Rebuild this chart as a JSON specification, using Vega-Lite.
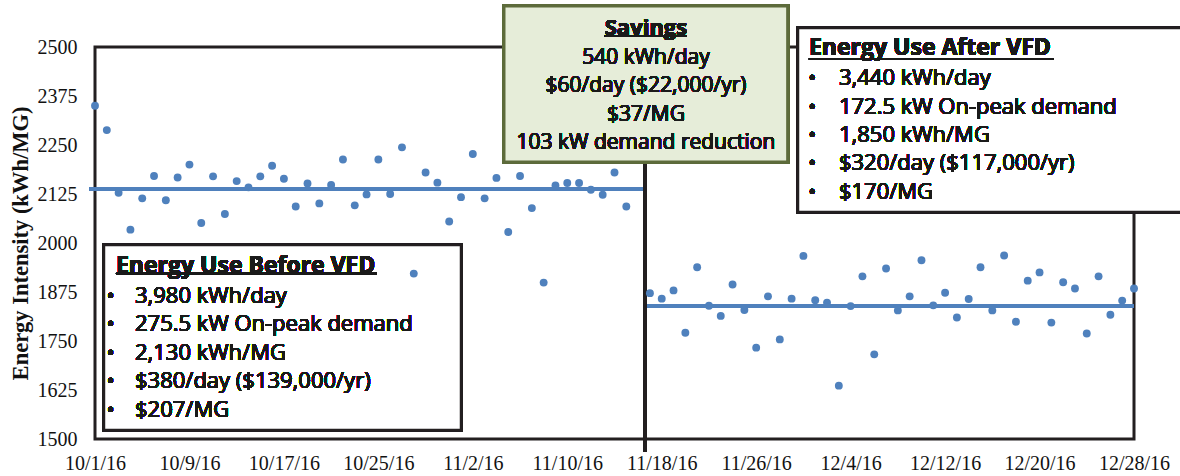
{
  "$schema": "https://vega.github.io/schema/vega-lite/v6.json",
  "width": 1039,
  "height": 392,
  "autosize": {"type": "none"},
  "padding": {"left": 95, "top": 47, "right": 46, "bottom": 37},
  "background": "white",
  "config": {"view": {"stroke": "#231f20", "strokeWidth": 3}, "font": "Liberation Serif"},
  "data": {"values": [
    {"date": "2016-10-01T00:00", "value": 2350},
    {"date": "2016-10-02T00:00", "value": 2288},
    {"date": "2016-10-03T00:00", "value": 2128},
    {"date": "2016-10-04T00:00", "value": 2034},
    {"date": "2016-10-05T00:00", "value": 2114},
    {"date": "2016-10-06T00:00", "value": 2171},
    {"date": "2016-10-07T00:00", "value": 2109},
    {"date": "2016-10-08T00:00", "value": 2167},
    {"date": "2016-10-09T00:00", "value": 2200},
    {"date": "2016-10-10T00:00", "value": 2051},
    {"date": "2016-10-11T00:00", "value": 2170},
    {"date": "2016-10-12T00:00", "value": 2074},
    {"date": "2016-10-13T00:00", "value": 2158},
    {"date": "2016-10-14T00:00", "value": 2142},
    {"date": "2016-10-15T00:00", "value": 2170},
    {"date": "2016-10-16T00:00", "value": 2197},
    {"date": "2016-10-17T00:00", "value": 2164},
    {"date": "2016-10-18T00:00", "value": 2093},
    {"date": "2016-10-19T00:00", "value": 2152},
    {"date": "2016-10-20T00:00", "value": 2101},
    {"date": "2016-10-21T00:00", "value": 2148},
    {"date": "2016-10-22T00:00", "value": 2213},
    {"date": "2016-10-23T00:00", "value": 2096},
    {"date": "2016-10-24T00:00", "value": 2124},
    {"date": "2016-10-25T00:00", "value": 2213},
    {"date": "2016-10-26T00:00", "value": 2125},
    {"date": "2016-10-27T00:00", "value": 2244},
    {"date": "2016-10-28T00:00", "value": 1922},
    {"date": "2016-10-29T00:00", "value": 2180},
    {"date": "2016-10-30T00:00", "value": 2154},
    {"date": "2016-10-31T00:00", "value": 2055},
    {"date": "2016-11-01T00:00", "value": 2117},
    {"date": "2016-11-02T00:00", "value": 2227},
    {"date": "2016-11-03T00:00", "value": 2114},
    {"date": "2016-11-04T00:00", "value": 2166},
    {"date": "2016-11-05T00:00", "value": 2028},
    {"date": "2016-11-06T00:00", "value": 2171},
    {"date": "2016-11-07T00:00", "value": 2089},
    {"date": "2016-11-08T00:00", "value": 1899},
    {"date": "2016-11-09T00:00", "value": 2147},
    {"date": "2016-11-10T00:00", "value": 2153},
    {"date": "2016-11-11T00:00", "value": 2153},
    {"date": "2016-11-12T00:00", "value": 2136},
    {"date": "2016-11-13T00:00", "value": 2123},
    {"date": "2016-11-14T00:00", "value": 2180},
    {"date": "2016-11-15T00:00", "value": 2093},
    {"date": "2016-11-17T00:00", "value": 1872},
    {"date": "2016-11-18T00:00", "value": 1858},
    {"date": "2016-11-19T00:00", "value": 1879},
    {"date": "2016-11-20T00:00", "value": 1771},
    {"date": "2016-11-21T00:00", "value": 1938},
    {"date": "2016-11-22T00:00", "value": 1840},
    {"date": "2016-11-23T00:00", "value": 1814},
    {"date": "2016-11-24T00:00", "value": 1894},
    {"date": "2016-11-25T00:00", "value": 1829},
    {"date": "2016-11-26T00:00", "value": 1733},
    {"date": "2016-11-27T00:00", "value": 1864},
    {"date": "2016-11-28T00:00", "value": 1754},
    {"date": "2016-11-29T00:00", "value": 1858},
    {"date": "2016-11-30T00:00", "value": 1967},
    {"date": "2016-12-01T00:00", "value": 1854},
    {"date": "2016-12-02T00:00", "value": 1848},
    {"date": "2016-12-03T00:00", "value": 1636},
    {"date": "2016-12-04T00:00", "value": 1839},
    {"date": "2016-12-05T00:00", "value": 1915},
    {"date": "2016-12-06T00:00", "value": 1716},
    {"date": "2016-12-07T00:00", "value": 1935},
    {"date": "2016-12-08T00:00", "value": 1828},
    {"date": "2016-12-09T00:00", "value": 1864},
    {"date": "2016-12-10T00:00", "value": 1956},
    {"date": "2016-12-11T00:00", "value": 1841},
    {"date": "2016-12-12T00:00", "value": 1873},
    {"date": "2016-12-13T00:00", "value": 1810},
    {"date": "2016-12-14T00:00", "value": 1857},
    {"date": "2016-12-15T00:00", "value": 1938},
    {"date": "2016-12-16T00:00", "value": 1828},
    {"date": "2016-12-17T00:00", "value": 1968},
    {"date": "2016-12-18T00:00", "value": 1799},
    {"date": "2016-12-19T00:00", "value": 1904},
    {"date": "2016-12-20T00:00", "value": 1925},
    {"date": "2016-12-21T00:00", "value": 1797},
    {"date": "2016-12-22T00:00", "value": 1900},
    {"date": "2016-12-23T00:00", "value": 1884},
    {"date": "2016-12-24T00:00", "value": 1769},
    {"date": "2016-12-25T00:00", "value": 1915},
    {"date": "2016-12-26T00:00", "value": 1817},
    {"date": "2016-12-27T00:00", "value": 1853},
    {"date": "2016-12-28T00:00", "value": 1884}
  ]},
  "layer": [
    {
      "mark": {"type": "rule", "color": "#4f81bd", "strokeWidth": 3},
      "encoding": {
        "x": {"datum": {"year": 2016, "month": 9, "date": 30, "hours": 12}, "type": "temporal"},
        "x2": {"datum": {"year": 2016, "month": 11, "date": 16, "hours": 14}},
        "y": {"datum": 2137.2, "type": "quantitative"}
      }
    },
    {
      "mark": {"type": "rule", "color": "#4f81bd", "strokeWidth": 3},
      "encoding": {
        "x": {"datum": {"year": 2016, "month": 11, "date": 16, "hours": 14}, "type": "temporal"},
        "x2": {"datum": {"year": 2016, "month": 12, "date": 28}},
        "y": {"datum": 1838.5, "type": "quantitative"}
      }
    },
    {
      "mark": {"type": "rule", "color": "#231f20", "strokeWidth": 3},
      "encoding": {
        "x": {"datum": {"year": 2016, "month": 11, "date": 16, "hours": 14}, "type": "temporal"},
        "y": {"datum": 1467, "type": "quantitative"},
        "y2": {"datum": 2500}
      }
    },
    {
      "mark": {"type": "rect", "fill": "#e6edd9", "stroke": "#5d6b3b", "strokeWidth": 3},
      "encoding": {
        "x": {"datum": {"year": 2016, "month": 11, "date": 4, "hours": 15, "minutes": 22}, "type": "temporal"},
        "x2": {"datum": {"year": 2016, "month": 11, "date": 28, "hours": 16}},
        "y": {"datum": 2604.6, "type": "quantitative"},
        "y2": {"datum": 2206.6}
      }
    },
    {
      "mark": {"type": "rect", "fill": "white", "stroke": "#231f20", "strokeWidth": 2.5},
      "encoding": {
        "x": {"datum": {"year": 2016, "month": 10, "date": 1, "hours": 18, "minutes": 15}, "type": "temporal"},
        "x2": {"datum": {"year": 2016, "month": 11, "date": 1}},
        "y": {"datum": 1994.9, "type": "quantitative"},
        "y2": {"datum": 1523}
      }
    },
    {
      "mark": {"type": "rect", "fill": "white", "stroke": "#231f20", "strokeWidth": 2.5},
      "encoding": {
        "x": {"datum": {"year": 2016, "month": 11, "date": 29, "hours": 13}, "type": "temporal"},
        "x2": {"datum": {"year": 2017, "month": 1, "date": 3}},
        "y": {"datum": 2548.5, "type": "quantitative"},
        "y2": {"datum": 2079}
      }
    },
    {
      "mark": {"type": "circle", "color": "#4f81bd", "size": 62, "opacity": 1},
      "encoding": {
        "x": {
          "field": "date", "type": "temporal",
          "scale": {"domain": [{"year": 2016, "month": 10, "date": 1}, {"year": 2016, "month": 12, "date": 28}]},
          "axis": {
            "title": null,
            "values": [
              {"year": 2016, "month": 10, "date": 1}, {"year": 2016, "month": 10, "date": 9},
              {"year": 2016, "month": 10, "date": 17}, {"year": 2016, "month": 10, "date": 25},
              {"year": 2016, "month": 11, "date": 2}, {"year": 2016, "month": 11, "date": 10},
              {"year": 2016, "month": 11, "date": 18}, {"year": 2016, "month": 11, "date": 26},
              {"year": 2016, "month": 12, "date": 4}, {"year": 2016, "month": 12, "date": 12},
              {"year": 2016, "month": 12, "date": 20}, {"year": 2016, "month": 12, "date": 28}
            ],
            "format": "%-m/%-d/%y",
            "grid": false, "ticks": false, "domain": false,
            "labelFont": "Liberation Serif", "labelFontSize": 20, "labelColor": "#111111",
            "labelPadding": 14, "labelOverlap": false, "labelFlush": false
          }
        },
        "y": {
          "field": "value", "type": "quantitative",
          "scale": {"domain": [1500, 2500], "nice": false, "zero": false},
          "axis": {
            "title": "Energy Intensity (kWh/MG)",
            "values": [1500, 1625, 1750, 1875, 2000, 2125, 2250, 2375, 2500],
            "format": "d",
            "grid": false, "ticks": false, "domain": false,
            "labelFont": "Liberation Serif", "labelFontSize": 20, "labelColor": "#111111",
            "labelPadding": 18, "labelOverlap": false, "labelFlush": false,
            "titleFont": "Liberation Serif", "titleFontSize": 22.5, "titleFontWeight": "bold",
            "titleColor": "#111111", "titlePadding": 5
          }
        }
      }
    },
    {
      "mark": {"type": "text", "font": "Open Sans", "fontSize": 22, "fontWeight": 700, "align": "center", "baseline": "middle", "color": "#1a1a1a"},
      "encoding": {
        "x": {"datum": {"year": 2016, "month": 11, "date": 16, "hours": 16}, "type": "temporal"},
        "y": {"datum": 2548.5, "type": "quantitative"},
        "text": {"value": "Savings"}
      }
    },
    {
      "mark": {"type": "text", "font": "Open Sans", "fontSize": 21, "fontWeight": 400, "align": "center", "baseline": "middle", "lineHeight": 28.3, "color": "#1a1a1a"},
      "encoding": {
        "x": {"datum": {"year": 2016, "month": 11, "date": 16, "hours": 16}, "type": "temporal"},
        "y": {"datum": 2471.9, "type": "quantitative"},
        "text": {"value": ["540 kWh/day", "$60/day ($22,000/yr)", "$37/MG", "103 kW demand reduction"]}
      }
    },
    {
      "mark": {"type": "text", "font": "Open Sans", "fontSize": 23, "fontWeight": 700, "align": "left", "baseline": "middle", "color": "#1a1a1a"},
      "encoding": {
        "x": {"datum": {"year": 2016, "month": 10, "date": 2, "hours": 18, "minutes": 40}, "type": "temporal"},
        "y": {"datum": 1941.3, "type": "quantitative"},
        "text": {"value": "Energy Use Before VFD"}
      }
    },
    {
      "mark": {"type": "text", "font": "Open Sans", "fontSize": 22, "fontWeight": 400, "align": "center", "baseline": "middle", "lineHeight": 28.5, "color": "#1a1a1a"},
      "encoding": {
        "x": {"datum": {"year": 2016, "month": 10, "date": 2, "hours": 8}, "type": "temporal"},
        "y": {"datum": 1864.8, "type": "quantitative"},
        "text": {"value": ["•", "•", "•", "•", "•"]}
      }
    },
    {
      "mark": {"type": "text", "font": "Open Sans", "fontSize": 22, "fontWeight": 400, "align": "left", "baseline": "middle", "lineHeight": 28.5, "color": "#1a1a1a"},
      "encoding": {
        "x": {"datum": {"year": 2016, "month": 10, "date": 4, "hours": 9, "minutes": 20}, "type": "temporal"},
        "y": {"datum": 1864.8, "type": "quantitative"},
        "text": {"value": ["3,980 kWh/day", "275.5 kW On-peak demand", "2,130 kWh/MG", "$380/day ($139,000/yr)", "$207/MG"]}
      }
    },
    {
      "mark": {"type": "text", "font": "Open Sans", "fontSize": 23, "fontWeight": 700, "align": "left", "baseline": "middle", "color": "#1a1a1a"},
      "encoding": {
        "x": {"datum": {"year": 2016, "month": 11, "date": 30, "hours": 11, "minutes": 20}, "type": "temporal"},
        "y": {"datum": 2496.7, "type": "quantitative"},
        "text": {"value": "Energy Use After VFD"}
      }
    },
    {
      "mark": {"type": "text", "font": "Open Sans", "fontSize": 22, "fontWeight": 400, "align": "center", "baseline": "middle", "lineHeight": 28.35, "color": "#1a1a1a"},
      "encoding": {
        "x": {"datum": {"year": 2016, "month": 11, "date": 30, "hours": 17, "minutes": 30}, "type": "temporal"},
        "y": {"datum": 2420.2, "type": "quantitative"},
        "text": {"value": ["•", "•", "•", "•", "•"]}
      }
    },
    {
      "mark": {"type": "text", "font": "Open Sans", "fontSize": 22, "fontWeight": 400, "align": "left", "baseline": "middle", "lineHeight": 28.35, "color": "#1a1a1a"},
      "encoding": {
        "x": {"datum": {"year": 2016, "month": 12, "date": 3, "minutes": 15}, "type": "temporal"},
        "y": {"datum": 2420.2, "type": "quantitative"},
        "text": {"value": ["3,440 kWh/day", "172.5 kW On-peak demand", "1,850 kWh/MG", "$320/day ($117,000/yr)", "$170/MG"]}
      }
    },
    {
      "mark": {"type": "rule", "color": "#1a1a1a", "strokeWidth": 2},
      "encoding": {
        "x": {"datum": {"year": 2016, "month": 11, "date": 13, "hours": 4, "minutes": 34}, "type": "temporal"},
        "x2": {"datum": {"year": 2016, "month": 11, "date": 20, "hours": 3, "minutes": 20}},
        "y": {"datum": 2528, "type": "quantitative"}
      }
    },
    {
      "mark": {"type": "rule", "color": "#1a1a1a", "strokeWidth": 2},
      "encoding": {
        "x": {"datum": {"year": 2016, "month": 10, "date": 2, "hours": 18, "minutes": 40}, "type": "temporal"},
        "x2": {"datum": {"year": 2016, "month": 10, "date": 24, "hours": 21, "minutes": 7}},
        "y": {"datum": 1922.7, "type": "quantitative"}
      }
    },
    {
      "mark": {"type": "rule", "color": "#1a1a1a", "strokeWidth": 2},
      "encoding": {
        "x": {"datum": {"year": 2016, "month": 11, "date": 30, "hours": 11, "minutes": 20}, "type": "temporal"},
        "x2": {"datum": {"year": 2016, "month": 12, "date": 21, "hours": 5, "minutes": 20}},
        "y": {"datum": 2469.4, "type": "quantitative"}
      }
    }
  ]
}
